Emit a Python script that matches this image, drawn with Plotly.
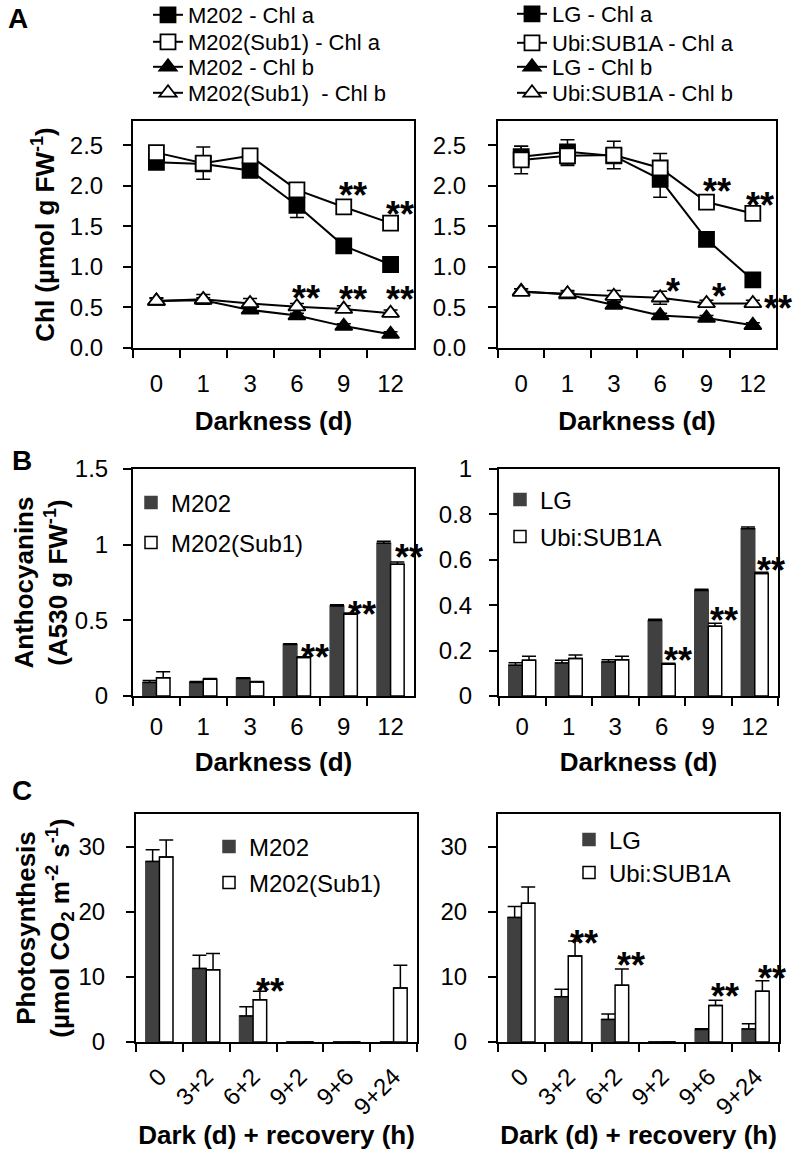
import plotly.graph_objects as go

# ---------------- data ----------------
days = ["0", "1", "3", "6", "9", "12"]

# Panel A (left) chlorophyll, umol g FW-1
m202_chla = [2.29, 2.27, 2.19, 1.76, 1.26, 1.03]
m202_chla_err = [0.04, 0.04, 0.04, 0.15, 0.05, 0.04]
sub1_chla = [2.41, 2.28, 2.37, 1.95, 1.74, 1.54]
sub1_chla_err = [0.05, 0.20, 0.04, 0.05, 0.05, 0.05]
m202_chlb = [0.58, 0.59, 0.47, 0.40, 0.27, 0.17]
m202_chlb_err = [0.03, 0.03, 0.03, 0.03, 0.03, 0.03]
sub1_chlb = [0.58, 0.60, 0.55, 0.51, 0.48, 0.43]
sub1_chlb_err = [0.04, 0.06, 0.06, 0.04, 0.04, 0.04]

# Panel A (right)
lg_chla = [2.36, 2.42, 2.37, 2.08, 1.34, 0.84]
lg_chla_err = [0.13, 0.15, 0.05, 0.22, 0.05, 0.05]
ubi_chla = [2.32, 2.37, 2.38, 2.22, 1.80, 1.66]
ubi_chla_err = [0.17, 0.12, 0.17, 0.18, 0.05, 0.08]
lg_chlb = [0.70, 0.66, 0.53, 0.40, 0.37, 0.28]
lg_chlb_err = [0.03, 0.03, 0.03, 0.03, 0.03, 0.03]
ubi_chlb = [0.69, 0.67, 0.64, 0.62, 0.55, 0.55]
ubi_chlb_err = [0.04, 0.04, 0.07, 0.08, 0.04, 0.04]

# Panel B anthocyanins (A530 g FW-1)
m202_anth = [0.09, 0.09, 0.115, 0.34, 0.595, 1.01]
m202_anth_err = [0.012, 0.005, 0.005, 0.005, 0.008, 0.012]
sub1_anth = [0.12, 0.11, 0.093, 0.255, 0.54, 0.87]
sub1_anth_err = [0.04, 0.006, 0.003, 0.005, 0.008, 0.015]
lg_anth = [0.136, 0.145, 0.15, 0.333, 0.465, 0.737]
lg_anth_err = [0.01, 0.012, 0.01, 0.005, 0.005, 0.008]
ubi_anth = [0.158, 0.165, 0.16, 0.14, 0.307, 0.54]
ubi_anth_err = [0.017, 0.016, 0.015, 0.004, 0.013, 0.005]

# Panel C photosynthesis (umol CO2 m-2 s-1)
recovery = ["0", "3+2", "6+2", "9+2", "9+6", "9+24"]
m202_ps = [27.7, 11.3, 4.0, 0, 0, 0]
m202_ps_err = [1.8, 2.0, 1.4, 0, 0, 0]
sub1_ps = [28.4, 11.1, 6.5, 0, 0, 8.3]
sub1_ps_err = [2.6, 2.5, 1.3, 0, 0, 3.5]
lg_ps = [19.1, 6.95, 3.45, 0, 1.9, 2.0]
lg_ps_err = [1.7, 1.15, 0.85, 0, 0.15, 0.8]
ubi_ps = [21.3, 13.2, 8.7, 0, 5.6, 7.8]
ubi_ps_err = [2.5, 2.3, 2.5, 0, 0.8, 1.6]

# significance marks: (panel axis suffix, category index, y value, label)
sig_marks = [
    ("", 4, 1.98, "**"), ("", 5, 1.75, "**"),
    ("", 3, 0.71, "**"), ("", 4, 0.70, "**"), ("", 5, 0.70, "**"),
    ("2", 4, 2.03, "**"), ("2", 5, 1.86, "**"),
    ("2", 3, 0.79, "*"), ("2", 4, 0.73, "*"), ("2", 5, 0.59, "**"),
    ("3", 3, 0.31, "**"), ("3", 4, 0.59, "**"), ("3", 5, 0.97, "**"),
    ("4", 3, 0.19, "**"), ("4", 4, 0.37, "**"), ("4", 5, 0.59, "**"),
    ("5", 2, 9.0, "**"),
    ("6", 1, 16.3, "**"), ("6", 2, 13.0, "**"), ("6", 4, 8.2, "**"), ("6", 5, 11.0, "**"),
]
# horizontal offsets (px) of the asterisks from the category centre (styling)
sig_shift = {"": 9, "2": 10, "3": 18, "4": 16, "5": 17, "6": 16}
sig_shift_override = {("2", 3, 0.79): 13, ("2", 4, 0.73): 12, ("2", 5, 0.59): 25, ("2", 5, 1.86): 7}

# ---------------- styling ----------------
FONT = "Liberation Sans, Arial, sans-serif"
DARK = "#404040"
W, H = 797, 1155

fig = go.Figure()


def err(arr, up_only=False):
    d = dict(type="data", array=arr, color="black", thickness=1.5, width=7, visible=True)
    if up_only:
        d["symmetric"] = False
        d["arrayminus"] = [0] * len(arr)
    return d


def line_trace(y, e, name, symbol, filled, xa, ya, legend):
    return go.Scatter(
        x=days, y=y, name=name, mode="lines+markers",
        line=dict(color="black", width=2),
        marker=dict(symbol=symbol, size=15, color="black" if filled else "white",
                    line=dict(color="black", width=1.8)),
        error_y=err(e), xaxis=xa, yaxis=ya, legend=legend,
    )


def bar_trace(x, y, e, name, filled, xa, ya, legend):
    return go.Bar(
        x=x, y=y, name=name,
        marker=dict(color=DARK if filled else "white",
                    line=dict(color="black" if not filled else DARK, width=1.5)),
        error_y=err(e, up_only=True), xaxis=xa, yaxis=ya, legend=legend,
    )


# Panel A left
fig.add_trace(line_trace(m202_chla, m202_chla_err, "M202 - Chl a", "square", True, "x", "y", "legend"))
fig.add_trace(line_trace(sub1_chla, sub1_chla_err, "M202(Sub1) - Chl a", "square", False, "x", "y", "legend2"))
fig.add_trace(line_trace(m202_chlb, m202_chlb_err, "M202 - Chl b", "triangle-up", True, "x", "y", "legend3"))
fig.add_trace(line_trace(sub1_chlb, sub1_chlb_err, "M202(Sub1)  - Chl b", "triangle-up", False, "x", "y", "legend4"))
# Panel A right
fig.add_trace(line_trace(lg_chla, lg_chla_err, "LG - Chl a", "square", True, "x2", "y2", "legend5"))
fig.add_trace(line_trace(ubi_chla, ubi_chla_err, "Ubi:SUB1A - Chl a", "square", False, "x2", "y2", "legend6"))
fig.add_trace(line_trace(lg_chlb, lg_chlb_err, "LG - Chl b", "triangle-up", True, "x2", "y2", "legend7"))
fig.add_trace(line_trace(ubi_chlb, ubi_chlb_err, "Ubi:SUB1A - Chl b", "triangle-up", False, "x2", "y2", "legend8"))
# Panel B
fig.add_trace(bar_trace(days, m202_anth, m202_anth_err, "M202", True, "x3", "y3", "legend9"))
fig.add_trace(bar_trace(days, sub1_anth, sub1_anth_err, "M202(Sub1)", False, "x3", "y3", "legend10"))
fig.add_trace(bar_trace(days, lg_anth, lg_anth_err, "LG", True, "x4", "y4", "legend11"))
fig.add_trace(bar_trace(days, ubi_anth, ubi_anth_err, "Ubi:SUB1A", False, "x4", "y4", "legend12"))
# Panel C
fig.add_trace(bar_trace(recovery, m202_ps, m202_ps_err, "M202", True, "x5", "y5", "legend13"))
fig.add_trace(bar_trace(recovery, sub1_ps, sub1_ps_err, "M202(Sub1)", False, "x5", "y5", "legend14"))
fig.add_trace(bar_trace(recovery, lg_ps, lg_ps_err, "LG", True, "x6", "y6", "legend15"))
fig.add_trace(bar_trace(recovery, ubi_ps, ubi_ps_err, "Ubi:SUB1A", False, "x6", "y6", "legend16"))


def px_x(a, b):
    return [a / W, b / W]


def px_y(top, bottom):
    return [1 - bottom / H, 1 - top / H]


tick_font = dict(family=FONT, size=24, color="black")
title_font = dict(family=FONT, size=26, color="black")


def xaxis(dom, anchor, title, angle=0, standoff=4, lab_off=13):
    return dict(
        domain=dom, anchor=anchor, type="category", tickson="boundaries",
        range=[-0.5, 5.5], autorange=False,
        ticks="outside", ticklen=8, tickwidth=1.8, tickcolor="black",
        showline=True, linecolor="black", linewidth=2, mirror=True,
        showgrid=False, zeroline=False, tickfont=tick_font, tickangle=angle,
        automargin=False, ticklabelstandoff=lab_off,
        title=dict(text="<b>" + title + "</b>", font=title_font, standoff=standoff),
    )


def yaxis(dom, anchor, rng, dtick, title=None, fmt=None, standoff=8, lab_off=15):
    d = dict(
        domain=dom, anchor=anchor, range=rng, autorange=False, dtick=dtick, tick0=0,
        ticks="outside", ticklen=8, tickwidth=1.8, tickcolor="black",
        showline=True, linecolor="black", linewidth=2, mirror=True,
        showgrid=False, zeroline=False, tickfont=tick_font, automargin=False,
        ticklabelstandoff=lab_off,
    )
    if fmt:
        d["tickformat"] = fmt
    if title:
        d["title"] = dict(text=title, font=title_font, standoff=standoff)
    return d


XL_A, XR_A = px_x(133, 414), px_x(498, 776)
XL_B, XR_B = px_x(133, 414), px_x(499, 778)
XL_C, XR_C = px_x(136, 417), px_x(498, 779)
Y_A = px_y(121, 348)
Y_B = px_y(469, 696)
Y_C = px_y(814, 1042)


def legend(text_x, row_y, size):
    # text_x: where the entry text should start (px); row_y: row centre (px from top)
    return dict(x=(text_x - 41) / W, y=1 - row_y / H, xanchor="left", yanchor="middle",
                font=dict(family=FONT, size=size, color="black"),
                bgcolor="rgba(0,0,0,0)", borderwidth=0, itemwidth=30, tracegroupgap=0)


legend_rows = {
    "legend": (189, 15, 22), "legend2": (189, 42, 22), "legend3": (189, 67, 22), "legend4": (189, 93, 22),
    "legend5": (553, 14, 22), "legend6": (553, 43, 22), "legend7": (553, 67, 22), "legend8": (553, 93, 22),
    "legend9": (172, 503, 24), "legend10": (172, 543, 24),
    "legend11": (541, 500, 24), "legend12": (541, 537, 24),
    "legend13": (250, 847, 24), "legend14": (250, 883, 24),
    "legend15": (610, 840, 24), "legend16": (610, 873, 24),
}

fig.update_layout(
    width=W, height=H, margin=dict(l=0, r=0, t=0, b=0, autoexpand=False),
    paper_bgcolor="white", plot_bgcolor="white", showlegend=True,
    font=dict(family=FONT, color="black"),
    barmode="group", bargap=0.42, bargroupgap=0,
    xaxis=xaxis(XL_A, "y", "Darkness (d)", standoff=16),
    yaxis=yaxis(Y_A, "x", [0, 2.8], 0.5, "<b>Chl (µmol g FW<sup>-1</sup>)</b>", ".1f", standoff=8, lab_off=15),
    xaxis2=xaxis(XR_A, "y2", "Darkness (d)", standoff=16),
    yaxis2=yaxis(Y_A, "x2", [0, 2.8], 0.5, None, ".1f", lab_off=17),
    xaxis3=xaxis(XL_B, "y3", "Darkness (d)", standoff=14, lab_off=8),
    yaxis3=yaxis(Y_B, "x3", [0, 1.5], 0.5, "<b>Anthocyanins<br>(A530 g FW<sup>-1</sup>)</b>", standoff=0, lab_off=10),
    xaxis4=xaxis(XR_B, "y4", "Darkness (d)", standoff=14, lab_off=8),
    yaxis4=yaxis(Y_B, "x4", [0, 1.0], 0.2, lab_off=12),
    xaxis5=xaxis(XL_C, "y5", "Dark (d) + recovery (h)", angle=-45, standoff=0, lab_off=9),
    yaxis5=yaxis(Y_C, "x5", [0, 35], 10, "<b>Photosynthesis<br>(µmol CO<sub>2</sub> m<sup>-2</sup> s<sup>-1</sup>)</b>", standoff=0, lab_off=16),
    xaxis6=xaxis(XR_C, "y6", "Dark (d) + recovery (h)", angle=-45, standoff=0, lab_off=9),
    yaxis6=yaxis(Y_C, "x6", [0, 35], 10, lab_off=16),
)
fig.update_layout({k: legend(*v) for k, v in legend_rows.items()})

# significance asterisks
for suffix, idx, yv, lab in sig_marks:
    shift = sig_shift_override.get((suffix, idx, yv), sig_shift[suffix])
    fig.add_annotation(
        x=idx, y=yv, xref="x" + suffix, yref="y" + suffix, text="<b>" + lab + "</b>",
        showarrow=False, xshift=shift, yshift=-8,
        xanchor="center", yanchor="middle",
        font=dict(family=FONT, size=36, color="black"),
    )

# panel letters
for lab, lx, ly in [("A", 18, 18), ("B", 22, 460), ("C", 22, 790)]:
    fig.add_annotation(x=lx / W, y=1 - ly / H, xref="paper", yref="paper", text="<b>" + lab + "</b>",
                       xanchor="center", yanchor="middle", showarrow=False,
                       font=dict(family=FONT, size=28, color="black"))

fig.write_html("out.html", config={"displayModeBar": False},
               post_script="document.body.style.margin='0px';")
